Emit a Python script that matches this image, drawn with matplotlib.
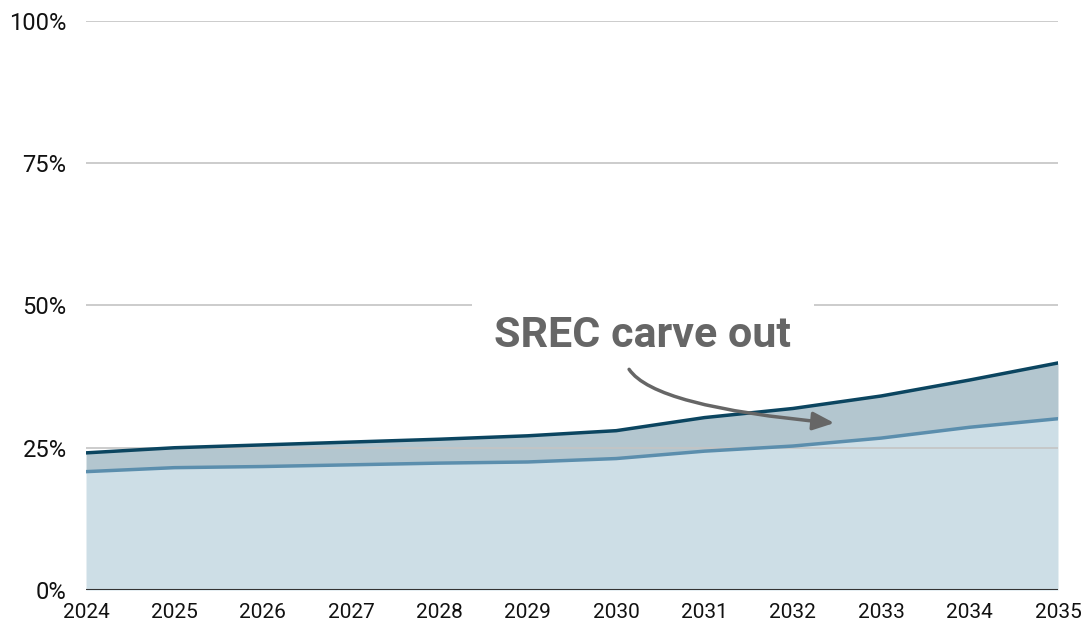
import matplotlib.pyplot as plt
import numpy as np

years = [2024, 2025, 2026, 2027, 2028, 2029, 2030, 2031, 2032, 2033, 2034, 2035]
total = [24.1, 25.0, 25.5, 26.0, 26.5, 27.1, 28.0, 30.3, 31.9, 34.1, 36.9, 39.9]
base = [20.8, 21.5, 21.7, 22.0, 22.3, 22.5, 23.1, 24.4, 25.3, 26.7, 28.6, 30.1]
yticks = [0, 25, 50, 75, 100]
ylabels = ['0%', '25%', '50%', '75%', '100%']

plt.rcParams['font.family'] = ['Roboto', 'DejaVu Sans']

fig = plt.figure(figsize=(10.86, 6.26), dpi=100)
ax = fig.add_axes([0.0792, 0.0575, 0.895, 0.909])

ax.fill_between(years, 0, base, color='#cddee6', lw=0, zorder=1)
ax.fill_between(years, base, total, color='#b3c6cf', lw=0, zorder=1)

for t in yticks[1:]:
    ax.axhline(t, color='#c4c4c4', lw=1.2, zorder=1.5)
ax.axhline(0, color='#333333', lw=1.5, zorder=4)

ax.plot(years, base, color='#5b8ead', lw=2.5, zorder=3)
ax.plot(years, total, color='#0b4560', lw=2.5, zorder=3)

ax.text(2030.3, 44.8, 'SREC carve out', ha='center', va='center',
        fontsize=31, fontweight='bold', color='#666666', zorder=5,
        bbox=dict(facecolor='white', edgecolor='none', pad=16))

ax.annotate('', xy=(2032.5, 29.3), xytext=(2030.13, 39.2),
            arrowprops=dict(arrowstyle='-|>,head_length=1.3,head_width=0.55',
                            color='#666666', lw=2.5,
                            connectionstyle='angle3,angleA=-62,angleB=-5'),
            zorder=5)

ax.set_xlim(2024, 2035)
ax.set_ylim(0, 100)
ax.set_yticks(yticks)
ax.set_yticklabels(ylabels, fontsize=17, color='#111111')
ax.set_xticks(years)
ax.set_xticklabels([str(y) for y in years], fontsize=15, color='#111111')
ax.tick_params(length=0, pad=14)
ax.tick_params(axis='x', pad=9)
for s in ax.spines.values():
    s.set_visible(False)

fig.savefig('out.png', dpi=100)
